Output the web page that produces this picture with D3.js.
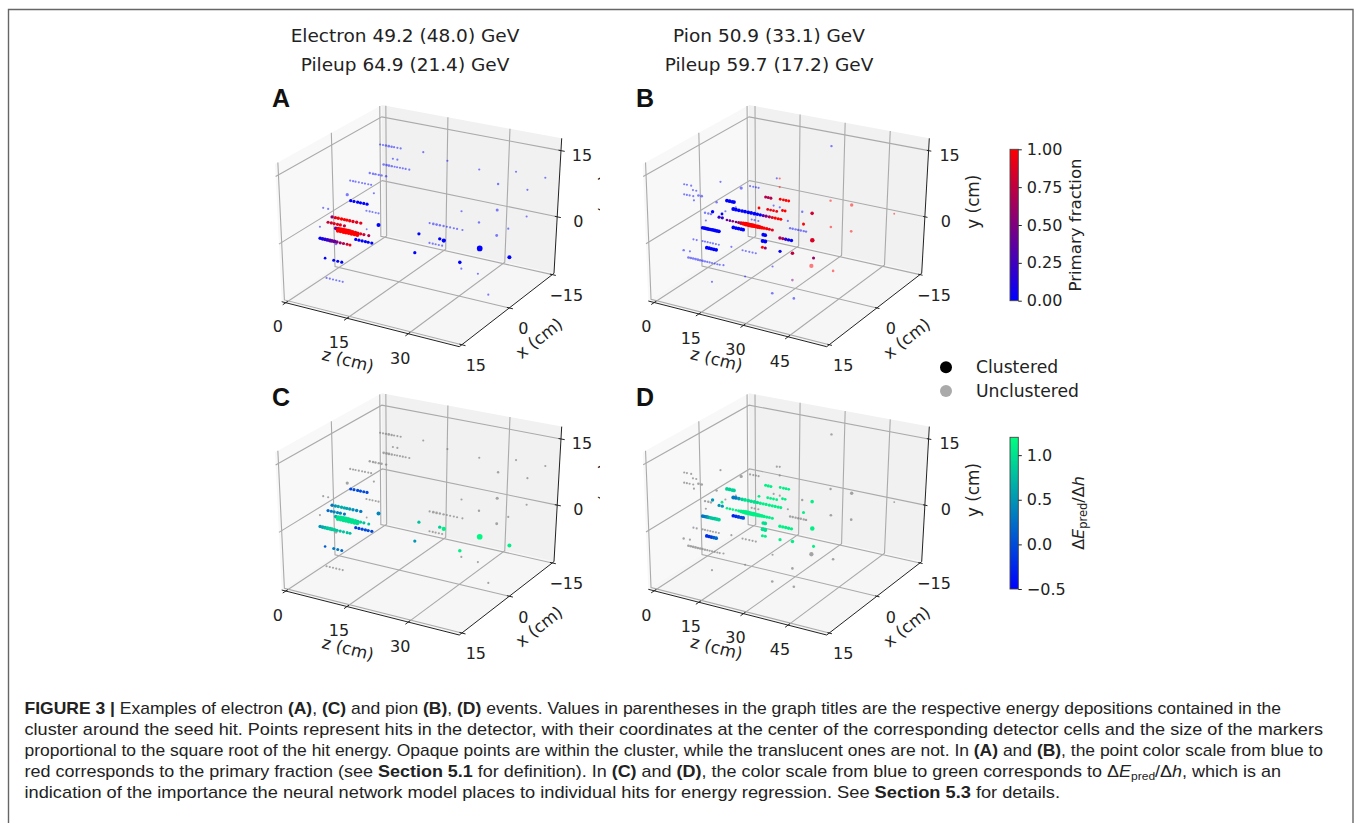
<!DOCTYPE html>
<html lang="en">

<head>
    <meta charset="utf-8">
    <title>Figure 3</title>
    <script src="https://cdn.jsdelivr.net/npm/d3@7"></script>
</head>
<style>
    html, body { margin: 0; padding: 0; background: white; }
    svg { display: block; }
    text { font-family: "DejaVu Sans", sans-serif; fill: #222; }
    .caption text, text.caption { font-family: "Liberation Sans", sans-serif; fill: #222; }
    .letter { font-family: "Liberation Sans", sans-serif; font-weight: bold; font-size: 25px; fill: #111; }
</style>

<body>
    <script>
        // hits are read off the picture. depth (x) can't be read from one view, so it is a guess per row.
        // row = [x, y, z list, energy, primary fraction, dE/dh]  (last three: one number or a list)
        var electronUnclustered = [
            [-12.2, 10.4, [1.2, 1.9, 2.6, 3.3, 4, 4.6, 5.4, 6.2], [.2, .2, .25, .3, .25, .2, .2, .2]],
            [-14, 6.6, [2.9, 4], .2],
            [-13, 5.4, [1.4, 2.1, 2.7, 3.4, 4.1, 4.7, 5.4, 6.1, 6.8, 7.7], [.3, .3, .3, .25, .2, .2, .2, .2, .2, .2]],
            [-9.1, 5.06, [1, 1.8, 2.4, 3.2, 3.9, 5], .25],
            [-3.6, 5.6, [.46, 1.16, 1.76, 2.56, 3.36, 4.06, 4.86, 5.56], .2],
            [-10, 0, [1.25], .2],
            [-2.4, 2.9, [.6], .45],
            [-8.3, -3.4, [.67, 1.47, 2.17, 2.97, 3.67], .2],
            [4.1, 2.8, [.04, 1.24], .2],
            [6.2, -.3, [.9], .2],
            [-8, -7.5, [.9], .15],
            [.4, -7.3, [-.25], .3],
            [5, -12.4, [1.1, 1.9, 2.7, 3.5, 4.3, 5.1], .2],
            [0, 1.8, [22.5, 23.4, 24.2, 25, 25.9, 26.7, 27.5, 28.4, 29.2, 30.5], [.2, .3, .3, .25, .25, .2, .2, .2, .2, .2]],
            [0, -2.6, [22.5, 23.3, 24, 24.8, 25.6], .2],
            [0, -6.7, [30.4], .2],
            [0, -7, [34.5], .2],
            [0, -11, [37.2], .2],
            [-13, 10.1, [11.1], .2],
            [-13, 9.2, [17], .2],
            [-13, 8.65, [24.8], .2],
            [-13, 9.75, [33.75], .2],
            [-13, 9.7, [40.9], .2],
            [-13, 6.2, [29.5], .25],
            [-13, 6.2, [36.7], .2],
            [-13, -1.7, [20.7], .2],
            [-13, .3, [29.5], .4],
            [-13, .2, [36.8], .2],
            [-13, -3.4, [25.1], .25],
            [-13, -3.4, [32.4], .2],
            [-13, -5.5, [29.6], .35]
        ];
        var electronClustered = [
            [-3.8, .86, [.33, 1.13, 2.03, 2.73, 3.53, 4.33], .45, 0, [-.05, 0, 0, 0, 0, -.05]],
            [1.6, -.47, [0, .8, 1.5, 2.3, 3, 3.6, 4.3, 5.1, 6, 7], .5,
                [.55, .9, 1, 1, 1, 1, .95, .9, .9, .9], [.3, .5, .6, .65, .65, .6, .55, .45, .4, .3]],
            [2.8, -1.1, [0, .8, 1.5, 2.3, 3, 4], .45, [.8, .8, .9, .9, .9, .8], [.2, .3, .4, .4, .4, .3]],
            [.4, -3.7, [-.2, .4, 1, 1.6, 2.2, 2.8, 3.3, 3.9, 4.6, 5.2, 5.9, 6.7, 7.9],
                [.6, .7, .85, .9, .9, .85, .8, .7, .6, .5, .45, .45, .4],
                [.4, .9, 1, 1, 1, 1, 1, 1, 1, .9, .9, .8, .7], [.7, 1, 1, 1, 1, 1, 1, 1, 1, .9, .9, .8, .8]],
            [.3, -4.2, [.2, .9, 1.6, 2.2, 2.9, 3.6, 4.3, 5], .7, 1, 1],
            [5, -3.7, [-.17, .43, 1.03, 1.63, 2.23, 2.73, 3.33, 3.93, 4.73, 5.53, 6.43, 7.13], [.55, .6, .6, .65, .65, .65, .6, .5, .45, .45, .4, .4],
                [0, .1, .15, .2, .3, .4, .4, .5, .6, .7, .8, .9], [.5, .6, .7, .8, .85, .85, .85, .8, .8, .8, .8, .75]],
            [-5.2, -8.7, [.3, 1.1, 1.9, 2.7, 3.4, 4.3], .45, 0, [-.1, -.1, -.05, 0, 0, -.05]],
            [3.5, -9, [-.4], .3, 0, .1],
            [1.2, -10.6, [-.25, .75, 1.75], .4, 0, [.3, .3, .2]],
            [0, -1.1, [10], .7, 0, .4],
            [0, -1.1, [19.9], .45, 0, .8],
            [0, -1.2, [25], .5, 0, .9],
            [0, -1.4, [26], .8, 0, 1.1],
            [0, -5.5, [18.9], .45, 0, .5],
            [0, -5.4, [30], .55, 0, 1.1],
            [0, -1.4, [34.8], 1.4, 0, 1.15],
            [0, -1.9, [42.1], .7, 0, 1.1]
        ];
        var pionUnclustered = [
            [5.9, 9, [-.3, .6, 2], .2],
            [3.4, 6.5, [-.4, .7], .2],
            [1.8, 4.5, [-.5, .6], .3],
            [5.9, 6.7, [-.4, .5, 1.4, 2.6], .2],
            [3.1, 4, [-.5], .2],
            [-4.5, 4.9, [.05], .2],
            [-10.5, .9, [.6], .45],
            [-13, .3, [.95, 2.05, 2.95, 3.85], .2],
            [-14, 2.8, [9], .2],
            [-14, 2.9, [10], .2, 1],
            [-14, .9, [10], .2, 1],
            [-3.4, .63, [-.2], .25],
            [-8.9, -2.9, [.4], .2],
            [-5.9, -2.5, [.05], .2],
            [-.1, -.4, [-.65, .45, 1.35], .25],
            [-.4, -2.3, [-.75], .2],
            [-13.4, -7.7, [1, 2, 3.3], .2],
            [-13, -7.5, [14.7, 15.6, 16.6, 17.5, 18.4, 19.4, 20.2], .25],
            [-13, -5.95, [13.9], .2],
            [-13, -3.1, [18.8], .25],
            [-13, -3.1, [9], .2],
            [-13, -3.2, [11.1], .2],
            [-10, -13.2, [25.3], .8, 1],
            [0, -7, [42.8], .3, 1],
            [-13, .8, [28.4], .25, 1],
            [-13, -5.2, [28.7], .3, 1],
            [-13, .8, [35.6], .5, 1],
            [-13, -5.2, [35.7], .3, 1],
            [-13, .8, [50.1], .15, 1],
            [-13, 13.3, [28.3], .25],
            [0, -11.1, [29], .3, .5],
            [8, -9.6, [31.1], .3],
            [8, -9.6, [38.4], .3],
            [8, -10.3, [10.7], .2],
            [0, -12.8, [12.8], .2],
            [0, -9.1, [22.2], .2],
            [0, -6.8, [8.2], .2],
            [0, -11.4, [5.4], .2],
            [0, -7, [12, 13.1, 14.3, 15.4, 16.5], .2],
            [3.2, -4.9, [-.9, .2], .2],
            [.7, -6.5, [-.75, .05, .95, 1.85, 2.75, 3.75, 4.75], .2],
            [6, -6, [-1], .25],
            [4.3, -7.1, [-.9], .2],
            [4.7, -8.3, [-1, -.2, .6, 1.4, 2.2, 3, 3.8, 4.6, 5.4, 6.2, 7, 7.9, 8.8, 9.6], [.3, .3, .3, .3, .3, .3, .25, .25, .2, .2, .2, .2, .2, .2]]
        ];
        var pionClustered = [
            [-6.3, -.2, [.2, 1.1, 2, 2.6], .6, 0, .9],
            [-2.3, -1.1, [-.45], .5, 0, .5],
            [-4.9, -2.7, [-.05], .35, 0, 1.1],
            [-8.2, -3, [.3, 1.2, 2.2, 3.3, 4.3, 5.4, 6.4, 7.5, 8.5, 9.5, 10.5, 11.5, 12.6, 13.6, 14.6, 15.6, 16.5], [.7, .6, .6, .6, .6, .6, .6, .6, .55, .5, .45, .45, .45, .45, .45, .45, .4],
                [0, 0, 0, 0, 0, 0, 0, 0, 0, 0, .3, .5, .7, .9, 1, 1, 1], [.3, .3, .5, .9, 1, 1, 1, 1, 1, 1.1, 1.1, 1.1, 1.1, 1.1, 1.1, 1.1, 1.1]],
            [-4.1, -3.1, [-.2, .9], .45, .2, .5],
            [-6.3, -4.7, [.1, 1.1, 2.1, 3.2, 4.1, 4.9, 5.7, 6.5, 7.2, 7.8, 8.5, 9.2, 9.9, 10.6, 11.2, 12, 12.8, 13.7, 14.6, 15.6],
                [.3, .3, .3, .3, .4, .6, .8, .9, .9, .9, .9, .9, .8, .8, .7, .6, .5, .45, .4, .4],
                [.4, .4, .5, .5, .6, .8, 1, 1, 1, 1, 1, 1, 1, 1, 1, 1, 1, 1, .9, .9], 1.1],
            [.6, -3.5, [-.75, -.05, .65, 1.25, 1.95, 2.65, 3.35, 4.05, 4.75], .6, 0, [.3, .3, .4, .6, .8, .8, .8, .9, .9]],
            [-8.4, -7.4, [0, .9, 1.8, 2.7, 3.4], .6, 0, [-.3, -.2, -.1, 0, 0]],
            [-14, -5, [2.9], .35, 1, 1.1],
            [-14, -2.1, [5.2, 6.1, 7], .4, .7, 1.1],
            [-14, -1.9, [10.2, 11.3, 12.2, 13.1], .35, 1, 1.1],
            [-14, -4.9, [5.9, 6.9, 7.9, 9], .35, .95, 1.1],
            [-14, -4.4, [11, 11.9], .35, 1, 1.1],
            [-13, -3, [22.2], .55, .8, 1.1],
            [-13, -5.9, [19.3], .4, 1, 1.1],
            [-13, -9.15, [22.4], .9, .85, 1.1],
            [-13, -10.3, [11.2, 12.2, 13.2, 14.2, 15.2], .5, [.7, .6, .2, .05, 0], 1.1],
            [-13, -10.4, [5.4, 6.1], .6, 0, 1],
            [-13, -11.9, [5.2, 6.1], .7, 0, 1],
            [-10, -11.5, [8.3, 9.3], .4, [1, .6], 1.1],
            [-10, -11.5, [14.4], .45, .05, 1.1],
            [-10, -11.3, [18.7], .55, .75, 1.1],
            [-10, -11.3, [26], .4, .6, 1.1],
            [-.6, -8.65, [-.85, -.05, .75, 1.55, 2.35], .6, 0, [-.2, -.2, -.1, .1, .2]]
        ];

        var zTicksElectron = [0, 15, 30];
        var zTicksPion = [0, 15, 30, 45];
        var xTicks = [-15, 0, 15];
        var yTicks = [15, 0];
        var fractionTicks = [0, .25, .5, .75, 1];
        var gradientTicks = [-.5, 0, .5, 1];

        var titles = [
            ["Electron 49.2 (48.0) GeV", "Pileup 64.9 (21.4) GeV"],
            ["Pion 50.9 (33.1) GeV", "Pileup 59.7 (17.2) GeV"]
        ];

        // b bold, i italic, s subscript
        var captionLines = [
            [["FIGURE 3 | ", "b"], ["Examples of electron "], ["(A)", "b"], [", "], ["(C)", "b"], [" and pion "], ["(B)", "b"], [", "], ["(D)", "b"],
                [" events. Values in parentheses in the graph titles are the respective energy depositions contained in the"]],
            [["cluster around the seed hit. Points represent hits in the detector, with their coordinates at the center of the corresponding detector cells and the size of the markers"]],
            [["proportional to the square root of the hit energy. Opaque points are within the cluster, while the translucent ones are not. In "], ["(A)", "b"], [" and "], ["(B)", "b"],
                [", the point color scale from blue to"]],
            [["red corresponds to the primary fraction (see "], ["Section 5.1", "b"], [" for definition). In "], ["(C)", "b"], [" and "], ["(D)", "b"],
                [", the color scale from blue to green corresponds to Δ"], ["E", "i"], ["pred", "s"], ["/Δ"], ["h", "i"], [", which is an"]],
            [["indication of the importance the neural network model places to individual hits for energy regression. See "], ["Section 5.3", "b"], [" for details."]]
        ];
        var captionEnds = [1281, 1323, 1323, 1281, 1060];

        var width = 1356, height = 823;
        var rowGap = 288.3;

        var svg = d3.select("body").append("svg")
            .attr("width", width)
            .attr("height", height);

        var defs = svg.append("defs");
        defs.append("filter").attr("id", "soft")
            .attr("x", "-5%").attr("y", "-5%").attr("width", "110%").attr("height", "110%")
            .append("feGaussianBlur").attr("stdDeviation", 0.3);
        // subplot A/C cut off the neighbour's y label
        defs.append("clipPath").attr("id", "cutLabel")
            .append("rect").attr("x", 590).attr("y", 0).attr("width", 10).attr("height", 823);

        // frame
        svg.append("path")
            .attr("d", d3.line()([[8.5, 823], [8.5, 9.5], [1353, 9.5], [1353, 823]]))
            .attr("fill", "none").attr("stroke", "#666").attr("stroke-width", 1.4);

        var sizeScale = d3.scaleSqrt().domain([0, 1]).range([0, 2.4]);
        var fractionColor = d3.scaleLinear().domain([0, 1]).range(["#0000ff", "#ff0000"]);
        var gradientColor = d3.scaleLinear().domain([-.5, 1.2]).range(["#0000ff", "#00ff80"]);
        var tickFormat = d3.format("d");

        function at(v, i, fallback) {
            if (v === undefined) return fallback;
            return Array.isArray(v) ? v[i] : v;
        }

        function flatten(rows, clustered) {
            var out = [];
            rows.forEach(function (r) {
                r[2].forEach(function (z, i) {
                    out.push({
                        z: z, x: r[0], y: r[1], clustered: clustered,
                        e: at(r[3], i, .2), frac: at(r[4], i, 0), de: at(r[5], i, 0)
                    });
                });
            });
            return out;
        }

        // box of the 3d axes: corners on the page, everything in between is interpolated
        function makeProjection(c, zLim) {
            var zn = d3.scaleLinear().domain(zLim).range([0, 1]);
            var xn = d3.scaleLinear().domain([15.8, 0, -15.6]).range([0, 0.528, 1]);
            var yn = d3.scaleLinear().domain([-12.8, 17.8]).range([0, 1]);
            function lerp(a, b, t) { return [a[0] + (b[0] - a[0]) * t, a[1] + (b[1] - a[1]) * t]; }
            return function (z, x, y) {
                var u = zn(z), v = xn(x), w = yn(y);
                var low = lerp(lerp(c.fl, c.fr, u), lerp(c.bl, c.br, u), v);
                var high = lerp(lerp(c.tfl, c.tfr, u), lerp(c.tbl, c.tbr, u), v);
                return lerp(low, high, w);
            };
        }

        function drawPanel(p) {
            var g = svg.append("g").attr("transform", "translate(0," + p.dy + ")");
            var plot = g.append("g").attr("filter", "url(#soft)");
            var proj = makeProjection(p.corners, p.zLim);
            var z0 = p.zLim[0], z1 = p.zLim[1], x0 = 15.8, x1 = -15.6, y0 = -12.8, y1 = 17.8;
            var line = d3.line();

            function poly(pts, fill) {
                plot.append("path").attr("d", line(pts) + "Z").attr("fill", fill);
            }
            poly([proj(z0, x0, y0), proj(z0, x1, y0), proj(z0, x1, y1), proj(z0, x0, y1)], "#f8f8f8");
            poly([proj(z0, x1, y0), proj(z1, x1, y0), proj(z1, x1, y1), proj(z0, x1, y1)], "#f1f1f1");
            poly([proj(z0, x0, y0), proj(z1, x0, y0), proj(z1, x1, y0), proj(z0, x1, y0)], "#f6f6f6");

            var grid = [];
            p.zTicks.forEach(function (t) {
                grid.push([proj(t, x0, y0), proj(t, x1, y0), proj(t, x1, y1)]);
            });
            xTicks.forEach(function (t) {
                grid.push([proj(z1, t, y0), proj(z0, t, y0), proj(z0, t, y1)]);
            });
            yTicks.forEach(function (t) {
                grid.push([proj(z0, x0, t), proj(z0, x1, t), proj(z1, x1, t)]);
            });
            plot.append("g").selectAll("path").data(grid).join("path")
                .attr("d", line).attr("fill", "none").attr("stroke", "#aaa").attr("stroke-width", 1.1);

            // axis lines and ticks
            plot.append("path")
                .attr("d", line([proj(z0, x0, y0), proj(z1, x0, y0), proj(z1, x1, y0), proj(z1, x1, y1)]))
                .attr("fill", "none").attr("stroke", "#222").attr("stroke-width", 1);
            var ticks = [];
            p.zTicks.forEach(function (t) { ticks.push([proj(t, x0 + .9, y0), proj(t, x0 - .6, y0)]); });
            xTicks.forEach(function (t) { ticks.push([proj(z1 + .9, t, y0), proj(z1 - .6, t, y0)]); });
            yTicks.forEach(function (t) { ticks.push([proj(z1 + .9, x1, t), proj(z1 - .6, x1, t)]); });
            plot.append("g").selectAll("path").data(ticks).join("path")
                .attr("d", line).attr("stroke", "#222").attr("stroke-width", 1);

            // hits
            var hits = flatten(p.unclustered, false).concat(flatten(p.clustered, true));
            plot.append("g").selectAll("circle").data(hits).join("circle")
                .attr("cx", function (d) { return proj(d.z, d.x, d.y)[0]; })
                .attr("cy", function (d) { return proj(d.z, d.x, d.y)[1]; })
                .attr("r", function (d) { return sizeScale(d.e); })
                .attr("fill", function (d) {
                    if (p.mode === "fraction") return fractionColor(d.frac);
                    return d.clustered ? gradientColor(d.de) : "#808080";
                })
                .attr("fill-opacity", function (d) { return d.clustered ? 1 : (p.mode === "fraction" ? .5 : .7); });

            // tick labels
            function label(list, pos, dx, dy) {
                g.append("g").selectAll("text").data(list).join("text")
                    .attr("x", function (t) { return pos(t)[0] + dx; })
                    .attr("y", function (t) { return pos(t)[1] + dy; })
                    .attr("dy", "0.36em")
                    .attr("text-anchor", "middle")
                    .attr("font-size", 16)
                    .text(tickFormat);
            }
            label(p.zTicks, function (t) { return proj(t, x0, y0); }, -8, 24);
            label(xTicks, function (t) { return proj(z1, t, y0); }, 14, 20.7);
            label(yTicks, function (t) { return proj(z1, x1, t); }, 21, 4.5);

            // axis titles
            var a = p.labels;
            function axisTitle(txt, pos, rot) {
                return g.append("text")
                    .attr("transform", "translate(" + pos + ") rotate(" + rot + ")")
                    .attr("text-anchor", "middle").attr("dy", "0.36em").attr("font-size", 16.8)
                    .text(txt);
            }
            axisTitle("z (cm)", a.z, 14);
            axisTitle("x (cm)", a.x, -38);
            var yLabel = axisTitle("y (cm)", a.y, -90);
            if (p.cut) {
                g.append("g").attr("clip-path", "url(#cutLabel)").node().appendChild(yLabel.node());
            }

            g.append("text").attr("class", "letter")
                .attr("x", p.letterX).attr("y", p.letterY).text(p.letter);
        }

        var electronCorners = {
            fl: [281.7, 301.7], fr: [459.3, 346.7], br: [554, 273.3], bl: [382.7, 235],
            tfl: [275, 164], tfr: [461, 198], tbr: [561.7, 138.3], tbl: [381.7, 105]
        };
        var pionCorners = {
            fl: [648.3, 301], fr: [826.7, 346.7], br: [921.7, 273.3], bl: [750, 235],
            tfl: [642.7, 164], tfr: [828.5, 198], tbr: [929.3, 138.3], tbl: [749, 105]
        };
        var electronLabels = { z: [348, 360], x: [539, 338], y: [605.5, 201.7] };
        var pionLabels = { z: [716.7, 359.3], x: [906.7, 338.3], y: [973.3, 201.7] };

        var panels = [
            { letter: "A", letterX: 272, letterY: 107, dy: 0, mode: "fraction", corners: electronCorners, zLim: [-1, 42.5], zTicks: zTicksElectron,
                unclustered: electronUnclustered, clustered: electronClustered, labels: electronLabels, cut: true },
            { letter: "B", letterX: 636, letterY: 107, dy: 0, mode: "fraction", corners: pionCorners, zLim: [-2, 58], zTicks: zTicksPion,
                unclustered: pionUnclustered, clustered: pionClustered, labels: pionLabels },
            { letter: "C", letterX: 272, letterY: 118, dy: rowGap, mode: "gradient", corners: electronCorners, zLim: [-1, 42.5], zTicks: zTicksElectron,
                unclustered: electronUnclustered, clustered: electronClustered, labels: electronLabels, cut: true },
            { letter: "D", letterX: 636, letterY: 118, dy: rowGap, mode: "gradient", corners: pionCorners, zLim: [-2, 58], zTicks: zTicksPion,
                unclustered: pionUnclustered, clustered: pionClustered, labels: pionLabels }
        ];
        panels.forEach(drawPanel);

        // titles
        var titleX = [405, 769];
        titles.forEach(function (t, i) {
            t.forEach(function (s, j) {
                svg.append("text").attr("x", titleX[i]).attr("y", 42 + j * 29)
                    .attr("text-anchor", "middle").attr("font-size", 18.5).text(s);
            });
        });

        // colorbars
        function colorbar(id, color, top, bottom, domain, ticks, fmt) {
            var grad = defs.append("linearGradient").attr("id", id)
                .attr("x1", 0).attr("y1", 1).attr("x2", 0).attr("y2", 0);
            grad.selectAll("stop").data(domain).join("stop")
                .attr("offset", function (d, i) { return i; })
                .attr("stop-color", color);
            svg.append("rect").attr("x", 1010).attr("y", top).attr("width", 8.3).attr("height", bottom - top)
                .attr("fill", "url(#" + id + ")").attr("stroke", "#444").attr("stroke-width", .9);
            var scale = d3.scaleLinear().domain(domain).range([bottom, top]);
            var ax = svg.append("g").attr("transform", "translate(1018.3,0)")
                .call(d3.axisRight(scale).tickValues(ticks).tickFormat(d3.format(fmt)).tickSize(3.5).tickPadding(5));
            ax.select(".domain").remove();
            ax.selectAll("line").attr("stroke", "#222");
            ax.selectAll("text").attr("font-size", 16).attr("font-family", "DejaVu Sans").attr("fill", "#222");
        }
        colorbar("fractionGrad", fractionColor, 149.3, 300.7, [0, 1], fractionTicks, ".2f");
        colorbar("gradientGrad", gradientColor, 437.3, 589, [-.5, 1.2], gradientTicks, ".1f");

        svg.append("text").attr("transform", "translate(1075,225) rotate(-90)")
            .attr("text-anchor", "middle").attr("dy", "0.36em").attr("font-size", 16.6)
            .text("Primary fraction");

        var deLabel = svg.append("text").attr("transform", "translate(1078,513) rotate(-90)")
            .attr("text-anchor", "middle").attr("dy", "0.36em").attr("font-size", 16);
        deLabel.append("tspan").text("Δ");
        deLabel.append("tspan").attr("font-style", "italic").text("E");
        deLabel.append("tspan").attr("dy", 3.5).attr("font-size", 11.5).text("pred");
        deLabel.append("tspan").attr("dy", -3.5).text("/Δ");
        deLabel.append("tspan").attr("font-style", "italic").text("h");

        // legend
        var legendItems = [["Clustered", "#000", 367.3], ["Unclustered", "#aaa", 391]];
        var legend = svg.append("g").selectAll("g").data(legendItems).join("g");
        legend.append("circle").attr("cx", 946).attr("cy", function (d) { return d[2]; }).attr("r", 6)
            .attr("fill", function (d) { return d[1]; });
        legend.append("text").attr("x", 976).attr("y", function (d) { return d[2]; })
            .attr("dy", "0.36em").attr("font-size", 17.2).text(function (d) { return d[0]; });

        // caption, squeezed to the measured line ends
        var caption = svg.append("g").attr("class", "caption");
        captionLines.forEach(function (runs, i) {
            var t = caption.append("text").attr("x", 24.5).attr("y", 714 + i * 21).attr("font-size", 16.4)
                .attr("textLength", captionEnds[i] - 24.5).attr("lengthAdjust", "spacingAndGlyphs");
            var sub = false;
            runs.forEach(function (r) {
                var s = t.append("tspan").text(r[0]);
                if (r[1] === "b") s.attr("font-weight", "bold");
                if (r[1] === "i") s.attr("font-style", "italic");
                if (r[1] === "s") { s.attr("font-size", 11).attr("dy", 3); sub = true; }
                else if (sub) { s.attr("dy", -3); sub = false; }
            });
        });
    </script>
</body>

</html>
